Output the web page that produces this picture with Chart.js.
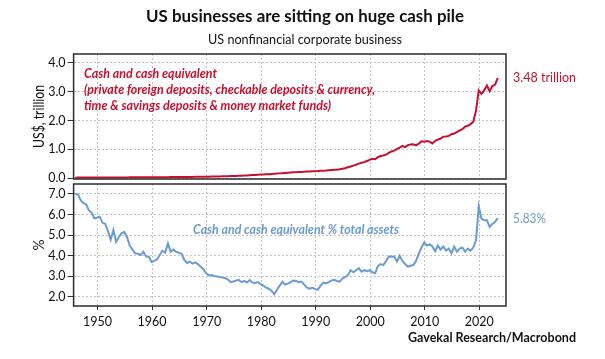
<!DOCTYPE html>
<html>
<head>
<meta charset="utf-8">
<script src="https://cdn.jsdelivr.net/npm/chart.js@4.4.0/dist/chart.umd.min.js"></script>
<style>
  body { margin: 0; background: #fff; }
  #wrap { position: relative; width: 605px; height: 359px; overflow: hidden; }
  #wrap canvas { position: absolute; left: 0; top: 0; }
</style>
</head>
<body>
<div id="wrap">
  <canvas id="topChart" width="605" height="359"></canvas>
  <canvas id="bottomChart" width="605" height="359"></canvas>
</div>
<script>
// half-yearly readings, first point late 1945
const startYear = 1945.9;
const stepYears = 0.5;

// cash and cash equivalent, US$ trillion (two readings per year, 1946..2023)
const cashTrillions = [
  0.022, 0.023, 0.024, 0.024, 0.025, 0.025, 0.026, 0.026, 0.027, 0.027,
  0.028, 0.028, 0.029, 0.029, 0.029, 0.030, 0.030, 0.031, 0.031, 0.031,
  0.032, 0.032, 0.032, 0.033, 0.033, 0.034, 0.034, 0.034, 0.035, 0.035,
  0.036, 0.037, 0.038, 0.039, 0.040, 0.041, 0.042, 0.043, 0.044, 0.045,
  0.045, 0.046, 0.047, 0.048, 0.050, 0.051, 0.052, 0.053, 0.054, 0.056,
  0.058, 0.060, 0.063, 0.066, 0.069, 0.071, 0.073, 0.075, 0.078, 0.082,
  0.086, 0.090, 0.095, 0.099, 0.104, 0.110, 0.116, 0.121, 0.127, 0.133,
  0.138, 0.142, 0.148, 0.155, 0.163, 0.170, 0.176, 0.183, 0.190, 0.197,
  0.205, 0.212, 0.218, 0.222, 0.228, 0.232, 0.236, 0.240, 0.245, 0.250,
  0.260, 0.265, 0.270, 0.280, 0.290, 0.295, 0.300, 0.310, 0.330, 0.350,
  0.380, 0.410, 0.440, 0.470, 0.510, 0.540, 0.560, 0.600, 0.640, 0.680,
  0.660, 0.730, 0.770, 0.790, 0.820, 0.880, 0.930, 0.960, 1.020, 1.060,
  1.120, 1.080, 1.150, 1.170, 1.180, 1.140, 1.200, 1.280, 1.270, 1.290,
  1.270, 1.210, 1.300, 1.340, 1.380, 1.440, 1.450, 1.470, 1.530, 1.550,
  1.600, 1.660, 1.700, 1.790, 1.820, 1.880, 1.960, 2.350, 3.050, 2.930,
  3.050, 3.220, 3.020, 3.200, 3.250, 3.480
];

// cash and cash equivalent as % of total assets
const cashPctAssets = [
  7.00, 6.98, 6.70, 6.55, 6.50, 6.20, 6.10, 5.82, 5.85, 5.90,
  5.60, 5.55, 5.20, 4.78, 5.25, 4.68, 4.90, 5.10, 5.15, 4.90,
  4.50, 4.30, 4.12, 4.10, 4.04, 4.20, 3.96, 3.95, 3.70, 3.75,
  3.82, 4.04, 4.25, 4.15, 4.60, 4.20, 4.30, 4.20, 4.15, 4.10,
  3.80, 3.65, 3.72, 3.62, 3.68, 3.60, 3.47, 3.35, 3.15, 3.05,
  3.07, 3.02, 3.00, 2.97, 2.95, 2.92, 2.85, 2.72, 2.75, 2.80,
  2.83, 2.72, 2.78, 2.70, 2.82, 2.70, 2.68, 2.72, 2.62, 2.55,
  2.45, 2.40, 2.30, 2.13, 2.35, 2.55, 2.74, 2.60, 2.65, 2.72,
  2.80, 2.78, 2.72, 2.75, 2.60, 2.45, 2.40, 2.45, 2.38, 2.36,
  2.55, 2.70, 2.66, 2.72, 2.80, 2.83, 2.78, 2.75, 2.90, 2.97,
  3.05, 3.30, 3.20, 3.30, 3.40, 3.23, 3.30, 3.25, 3.30, 3.20,
  3.15, 3.50, 3.60, 3.55, 3.75, 3.96, 3.95, 3.96, 3.72, 4.00,
  3.75, 3.60, 3.48, 3.52, 3.55, 3.75, 4.10, 4.40, 4.65, 4.50,
  4.55, 4.45, 4.22, 4.50, 4.30, 4.45, 4.25, 4.35, 4.12, 4.45,
  4.20, 4.35, 4.40, 4.20, 4.35, 4.25, 4.40, 4.75, 6.40, 5.80,
  5.72, 5.72, 5.40, 5.55, 5.65, 5.83
];

const decadeTicks = [1950, 1960, 1970, 1980, 1990, 2000, 2010, 2020];
const cashTicks = [0, 0.5, 1, 1.5, 2, 2.5, 3, 3.5, 4];
const pctTicks = [2, 2.5, 3, 3.5, 4, 4.5, 5, 5.5, 6, 6.5, 7];

const red = '#c8102e';
const blue = '#6a9bd3';
const ink = '#111';
const fontFamily = 'Lato, "Open Sans", sans-serif';
const gridColor = '#c4c4c4';

const years = cashTrillions.map((_, i) => startYear + i * stepYears);
const toPoints = vals => vals.map((v, i) => ({ x: years[i], y: v }));

const setTicks = list => scale => { scale.ticks = list.map(v => ({ value: v })); };
const wholeLabel = v => Number.isInteger(v) ? v.toFixed(1) : '';

// draw text squeezed/stretched to a given width (reference font is narrower)
function fitText(ctx, text, x, y, width, align, angle) {
  const w = ctx.measureText(text).width;
  ctx.save();
  ctx.translate(x, y);
  if (angle) ctx.rotate(angle);
  ctx.scale(width / w, 1);
  ctx.textAlign = align || 'left';
  ctx.textBaseline = 'middle';
  ctx.fillText(text, 0, 0);
  ctx.restore();
}

// frame around the plot area
const frame = {
  id: 'frame',
  afterDraw(chart) {
    const { ctx, chartArea: a } = chart;
    ctx.save();
    ctx.strokeStyle = '#2b2b2b';
    ctx.lineWidth = 1.5;
    ctx.strokeRect(a.left, a.top, a.right - a.left, a.bottom - a.top);
    ctx.restore();
  }
};

// value label at the last point, notes inside the panel, rotated axis title
const labels = {
  id: 'labels',
  afterDatasetsDraw(chart, args, opts) {
    const { ctx, chartArea: a } = chart;
    const meta = chart.getDatasetMeta(0);
    const last = meta.data[meta.data.length - 1];
    ctx.save();
    ctx.fillStyle = opts.color;
    ctx.font = '14px ' + fontFamily;
    fitText(ctx, opts.endText, a.right + 7, last.y, opts.endWidth);
    ctx.font = opts.noteFont;
    opts.notes.forEach((t, i) => {
      fitText(ctx, t, a.left + opts.noteX, a.top + opts.noteY + i * 16, opts.noteWidths[i]);
    });
    ctx.fillStyle = ink;
    ctx.font = '15px ' + fontFamily;
    fitText(ctx, opts.axisTitle, 39, (a.top + a.bottom) / 2, opts.axisTitleWidth, 'center', -Math.PI / 2);
    ctx.restore();
  }
};

// headline, subtitle and source line
const headings = {
  id: 'headings',
  afterDraw(chart) {
    const ctx = chart.ctx;
    ctx.save();
    ctx.fillStyle = ink;
    ctx.font = 'bold 17px ' + fontFamily;
    fitText(ctx, 'US businesses are sitting on huge cash pile', 305, 16.5, 318, 'center');
    ctx.font = '13px ' + fontFamily;
    fitText(ctx, 'US nonfinancial corporate business', 305, 40, 194, 'center');
    ctx.font = 'bold 14px ' + fontFamily;
    fitText(ctx, 'Gavekal Research/Macrobond', 576, 337, 168, 'right');
    ctx.restore();
  }
};

const baseX = (showLabels) => ({
  type: 'linear',
  min: 1945.6,
  max: 2024.9,
  afterBuildTicks: setTicks(decadeTicks),
  afterFit: s => { s.height = showLabels ? 22 : 0; },
  grid: { color: gridColor, drawTicks: showLabels, tickLength: 4, tickColor: '#333' },
  border: { display: false, dash: [2, 2] },
  ticks: {
    display: showLabels, maxRotation: 0, padding: 4,
    color: ink, font: { family: fontFamily, size: 12.5 },
    callback: v => String(v)
  }
});

const baseY = (min, max, list) => ({
  min: min,
  max: max,
  afterBuildTicks: setTicks(list),
  afterFit: s => { s.width = 73.6; },
  grid: { color: gridColor, tickLength: 6, tickColor: '#333' },
  border: { display: false, dash: [2, 2] },
  ticks: {
    padding: 2, color: ink, font: { family: fontFamily, size: 12.5 },
    callback: wholeLabel
  }
});

new Chart(document.getElementById('topChart'), {
  type: 'line',
  data: {
    datasets: [{
      data: toPoints(cashTrillions),
      borderColor: red,
      borderWidth: 2,
      pointRadius: 0,
      tension: 0
    }]
  },
  options: {
    responsive: false,
    animation: false,
    layout: { padding: { left: 0, top: 54, right: 99, bottom: 180 } },
    scales: {
      x: baseX(false),
      y: baseY(-0.025, 4.31, cashTicks)
    },
    plugins: {
      legend: { display: false },
      tooltip: { enabled: false },
      labels: {
        color: red,
        endText: '3.48 trillion',
        endWidth: 63,
        noteFont: 'italic bold 14px ' + fontFamily,
        noteX: 10.5,
        noteY: 19,
        notes: [
          'Cash and cash equivalent',
          '(private foreign deposits, checkable deposits & currency,',
          'time & savings deposits & money market funds)'
        ],
        noteWidths: [133, 291, 247],
        axisTitle: 'US$, trillion',
        axisTitleWidth: 63
      }
    }
  },
  plugins: [frame, labels, headings]
});

new Chart(document.getElementById('bottomChart'), {
  type: 'line',
  data: {
    datasets: [{
      data: toPoints(cashPctAssets),
      borderColor: blue,
      borderWidth: 2,
      pointRadius: 0,
      tension: 0
    }]
  },
  options: {
    responsive: false,
    animation: false,
    layout: { padding: { left: 0, top: 184, right: 99, bottom: 31 } },
    scales: {
      x: baseX(true),
      y: baseY(1.563, 7.485, pctTicks)
    },
    plugins: {
      legend: { display: false },
      tooltip: { enabled: false },
      labels: {
        color: blue,
        endText: '5.83%',
        endWidth: 33,
        noteFont: 'italic bold 14px ' + fontFamily,
        noteX: 119.5,
        noteY: 45,
        notes: ['Cash and cash equivalent % total assets'],
        noteWidths: [206],
        axisTitle: '%',
        axisTitleWidth: 11
      }
    }
  },
  plugins: [frame, labels]
});
</script>
</body>
</html>
